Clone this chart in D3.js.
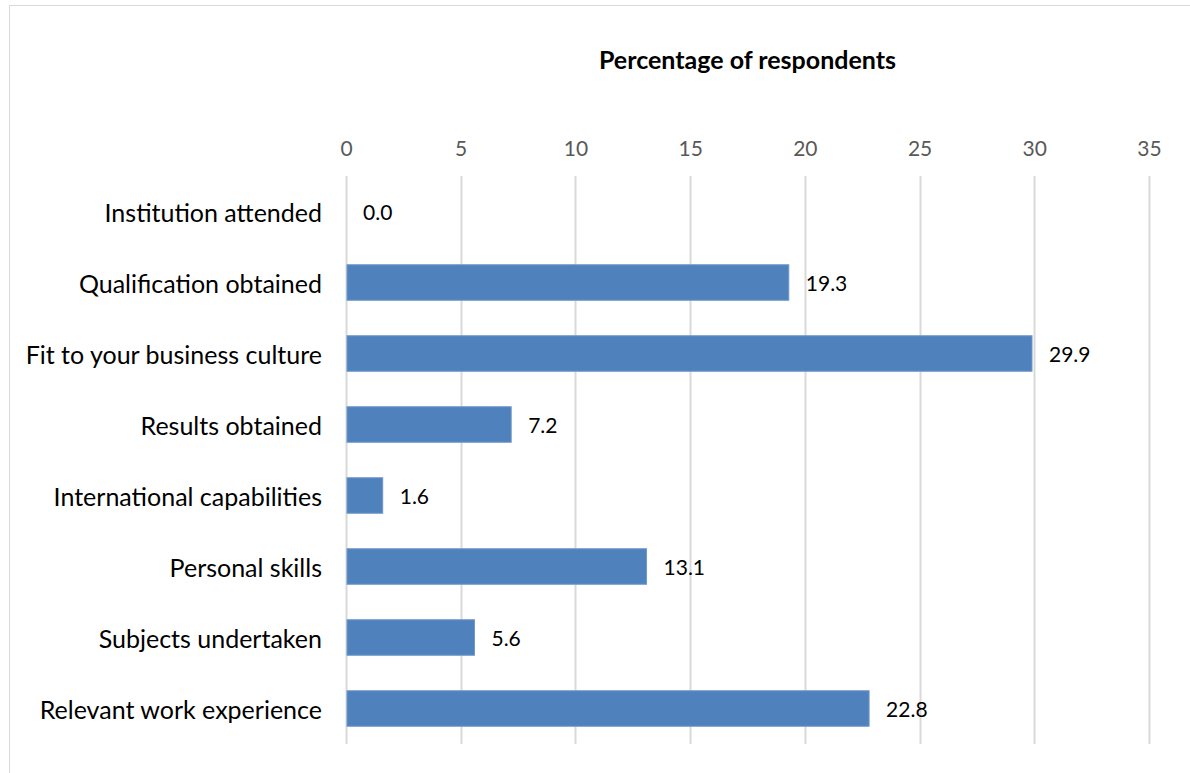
<!DOCTYPE html>
<html>
<head>
<meta charset="utf-8">
<script src="https://cdn.jsdelivr.net/npm/d3@7"></script>
<style>
  html, body { margin: 0; padding: 0; background: #fff; }
  svg { display: block; }
</style>
</head>
<body>
<svg id="chart" width="1190" height="773"></svg>
<script>
// Factors considered when recruiting graduates
const categories = [
  "Institution attended",
  "Qualification obtained",
  "Fit to your business culture",
  "Results obtained",
  "International capabilities",
  "Personal skills ",
  "Subjects undertaken",
  "Relevant work experience"
];
const values = [0.0, 19.3, 29.9, 7.2, 1.6, 13.1, 5.6, 22.8];
const tickValues = [0, 5, 10, 15, 20, 25, 30, 35];
const axisTitle = "Percentage of respondents";

const W = 1190, H = 773;
const margin = { top: 176, right: 41, bottom: 29, left: 346 };
const font = "Lato, 'Open Sans', sans-serif";

const svg = d3.select("#chart");

// outer chart frame
svg.append("rect")
  .attr("x", 9.5).attr("y", 5.5)
  .attr("width", W + 20).attr("height", H + 20)
  .attr("fill", "#fff").attr("stroke", "#d9d9d9").attr("stroke-width", 1);

const x = d3.scaleLinear().domain([0, 35]).range([margin.left, W - margin.right]);
const y = d3.scaleBand().domain(categories)
  .range([margin.top, H - margin.bottom]).paddingInner(0.5).paddingOuter(0.25);

// vertical gridlines
svg.append("g").selectAll("line").data(tickValues).join("line")
  .attr("x1", d => Math.round(x(d)) + 0.5).attr("x2", d => Math.round(x(d)) + 0.5)
  .attr("y1", margin.top).attr("y2", H - margin.bottom)
  .attr("stroke", "#d9d9d9").attr("stroke-width", 2);

// top tick labels
const xAxis = d3.axisTop(x).tickValues(tickValues).tickSize(0).tickPadding(0).tickFormat(d3.format("d"));
const gx = svg.append("g").attr("transform", `translate(0,${margin.top - 20})`).call(xAxis);
gx.select(".domain").remove();
gx.selectAll("text").attr("fill", "#595959").style("font-family", font).style("font-size", "21px");

// axis title
svg.append("text")
  .attr("x", (x(0) + x(35)) / 2).attr("y", 69)
  .attr("text-anchor", "middle")
  .style("font-family", font).style("font-size", "25px").style("font-weight", "bold")
  .attr("fill", "#000").text(axisTitle);

// category labels
const gy = svg.append("g").attr("transform", `translate(${margin.left - 24},0)`)
  .call(d3.axisLeft(y).tickSize(0).tickPadding(0));
gy.select(".domain").remove();
gy.selectAll("text").attr("fill", "#000").attr("dy", "0.4em")
  .style("font-family", font).style("font-size", "25px");

// bars
svg.append("g").selectAll("rect").data(values).join("rect")
  .attr("x", x(0) + 1)
  .attr("y", (d, i) => y(categories[i]))
  .attr("width", d => Math.max(0, x(d) - x(0) - 1))
  .attr("height", y.bandwidth())
  .attr("fill", "#4f81bd")
  .attr("stroke", d => d > 0 ? "#6f98c9" : "none").attr("stroke-width", 1);

// value labels
svg.append("g").selectAll("text").data(values).join("text")
  .attr("x", d => x(d) + 17)
  .attr("y", (d, i) => y(categories[i]) + y.bandwidth() / 2)
  .attr("dy", "0.4em")
  .style("font-family", font).style("font-size", "21px")
  .attr("fill", "#000")
  .text(d => d3.format(".1f")(d));
</script>
</body>
</html>
